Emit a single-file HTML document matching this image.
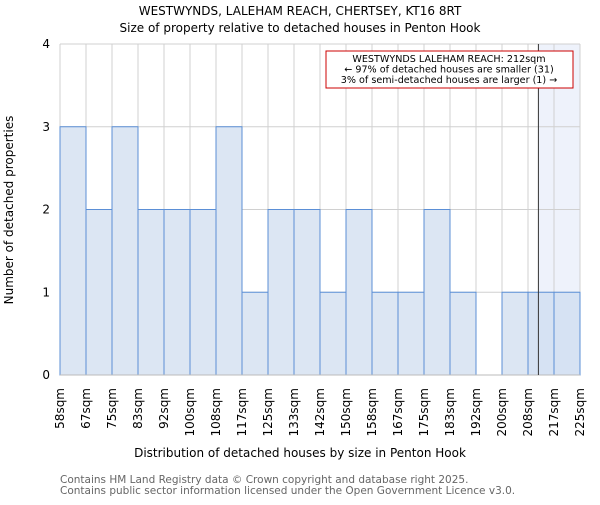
<!DOCTYPE html>
<html><head><meta charset="utf-8"><style>
body{margin:0;background:#fff;}
svg{font-family:"DejaVu Sans","Liberation Sans",sans-serif;}
</style></head><body>
<svg id="c" width="600" height="500">
<text x="300" y="15" text-anchor="middle" font-size="12">WESTWYNDS, LALEHAM REACH, CHERTSEY, KT16 8RT</text>
<text x="300" y="32" text-anchor="middle" font-size="12">Size of property relative to detached houses in Penton Hook</text>
<g id="grid"></g><g id="bars"></g><g id="axes"></g>
<text x="300" y="457" text-anchor="middle" font-size="12">Distribution of detached houses by size in Penton Hook</text>
<text transform="translate(13,210) rotate(-90)" text-anchor="middle" font-size="12">Number of detached properties</text>
<text x="60" y="483" font-size="10.5" fill="#666">Contains HM Land Registry data © Crown copyright and database right 2025.</text>
<text x="60" y="494" font-size="10.5" fill="#666">Contains public sector information licensed under the Open Government Licence v3.0.</text>
</svg>
<script>
const categories=["58sqm","67sqm","75sqm","83sqm","92sqm","100sqm","108sqm","117sqm","125sqm","133sqm","142sqm","150sqm","158sqm","167sqm","175sqm","183sqm","192sqm","200sqm","208sqm","217sqm","225sqm"];
const counts=[3,2,3,2,2,2,3,1,2,2,1,2,1,1,2,1,0,1,1,1];
const yTicks=[0,1,2,3,4];
const markerBin=18.4;
const NS="http://www.w3.org/2000/svg";
const L=60,R=580,T=44,B=375,n=counts.length,bw=(R-L)/n;
const x=i=>L+i*bw, y=v=>B-(v/4)*(B-T);
function mk(t,a,p){const e=document.createElementNS(NS,t);for(const k in a)e.setAttribute(k,a[k]);p.appendChild(e);return e;}
const g=document.getElementById('grid'),bg=document.getElementById('bars'),ax=document.getElementById('axes');
const mx=x(markerBin);
const sh=mk('rect',{x:mx,y:T,width:R-mx,height:B-T,fill:'#eef2fb'},g);


for(let i=0;i<=n;i++){mk('line',{x1:x(i),x2:x(i),y1:T,y2:B,stroke:'#d0d0d0'},g);}
yTicks.forEach(v=>{mk('line',{x1:L,x2:R,y1:y(v),y2:y(v),stroke:'#d0d0d0'},g);
const t=mk('text',{x:L-10,y:y(v)+4,'text-anchor':'end','font-size':12},ax);t.textContent=v;

});
counts.forEach((v,i)=>{if(v<=0)return;const r=mk('rect',{x:x(i),y:y(v),width:bw,height:B-y(v),fill:(i+1>markerBin?'#d6e2f3':'#dce6f3'),stroke:'#5b8fd6','stroke-width':1},bg);

});
mk('line',{x1:L,x2:R,y1:B,y2:B,stroke:'#bbb'},ax);
categories.forEach((c,i)=>{const t=mk('text',{transform:`translate(${x(i)+4},${B+13}) rotate(-90)`,'text-anchor':'end','font-size':12},ax);t.textContent=c;

});
const ml=mk('line',{x1:mx,x2:mx,y1:T,y2:B,stroke:'#333','stroke-width':1},ax);


const box=mk('rect',{x:326,y:51,width:247,height:37,fill:'#fff',stroke:'#c00','stroke-width':1},ax);


["WESTWYNDS LALEHAM REACH: 212sqm","← 97% of detached houses are smaller (31)","3% of semi-detached houses are larger (1) →"].forEach((s,k)=>{const t=mk('text',{x:449,y:62+k*10.5,'text-anchor':'middle','font-size':9.6},ax);t.textContent=s;

});
</script>
</body></html>
